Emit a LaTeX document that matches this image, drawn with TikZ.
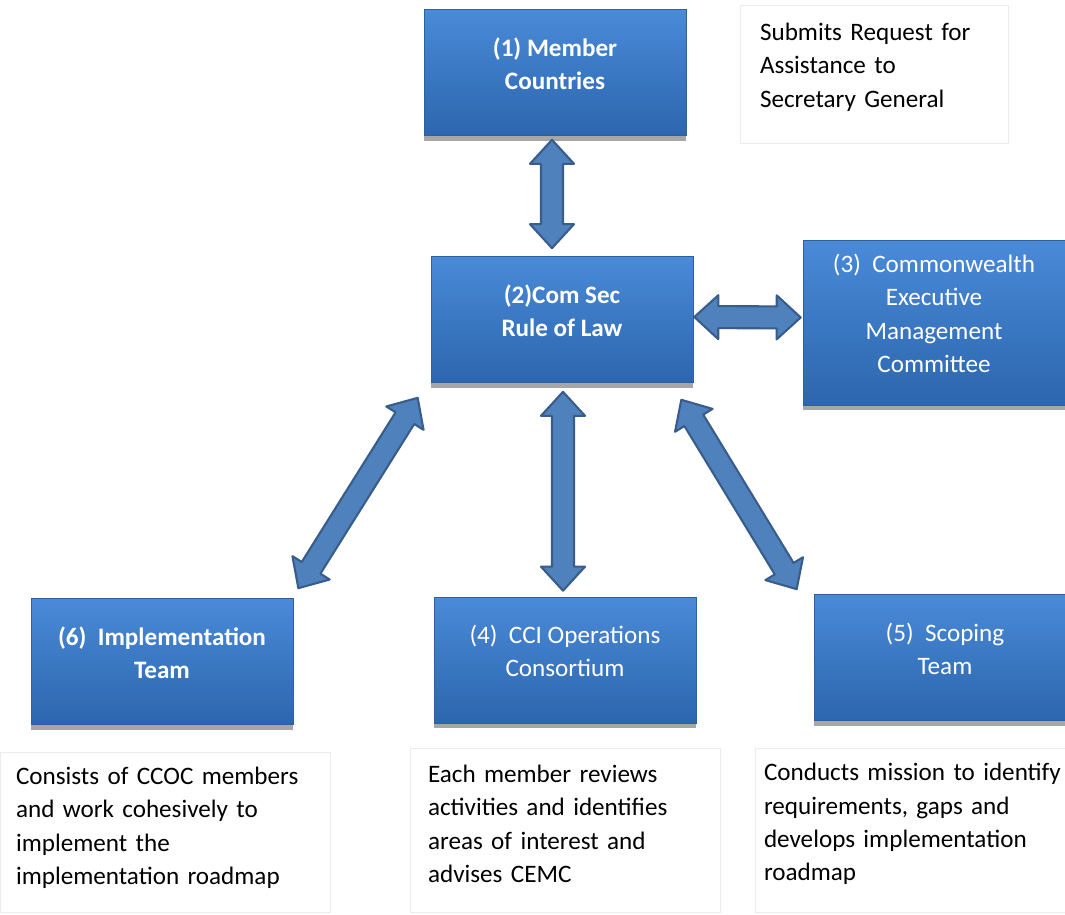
\documentclass[tikz,border=0pt]{standalone}
\usepackage{fontspec}
\setmainfont{Carlito}
\usetikzlibrary{calc,shadows}
\definecolor{boxtop}{RGB}{74,138,216}
\definecolor{boxbottom}{RGB}{44,102,174}
\definecolor{boxedge}{RGB}{46,96,160}
\definecolor{arrowfill}{RGB}{79,129,189}
\definecolor{arrowedge}{RGB}{56,93,138}
\definecolor{noteedge}{RGB}{236,236,236}
\newcommand{\boxfont}{\fontsize{14.3}{19}\selectfont}
\newcommand{\linkarrow}[2]{%
  \filldraw[link] (#1)
    -- ($(#1)!0.48cm!(#2)!0.44cm!90:(#2)$) -- ($(#1)!0.48cm!(#2)!0.22cm!90:(#2)$)
    -- ($(#2)!0.48cm!(#1)!0.22cm!-90:(#1)$) -- ($(#2)!0.48cm!(#1)!0.44cm!-90:(#1)$)
    -- (#2)
    -- ($(#2)!0.48cm!(#1)!0.44cm!90:(#1)$) -- ($(#2)!0.48cm!(#1)!0.22cm!90:(#1)$)
    -- ($(#1)!0.48cm!(#2)!0.22cm!-90:(#2)$) -- ($(#1)!0.48cm!(#2)!0.44cm!-90:(#2)$)
    -- cycle;}

\begin{document}
\begin{tikzpicture}[
    x=0.02cm, y=-0.02cm,
    block/.style={draw=boxedge, top color=boxtop, bottom color=boxbottom, text=white,
      minimum width=5.24cm, minimum height=2.52cm, text depth=0.36cm, align=center, font=\boxfont,
      drop shadow={shadow xshift=0pt, shadow yshift=-3pt, opacity=0.35, fill=black}},
    strong/.style={font=\boxfont\bfseries},
    note/.style={draw=noteedge, fill=white, align=left, font=\boxfont, text depth=64pt},
    link/.style={fill=arrowfill, draw=arrowedge, line width=1.2pt, line join=round}
]
    \useasboundingbox (0,0) rectangle (1065,915);
    \fill[white] (0,0) rectangle (1065,915);

    \node[block, strong] (m1) at (555,72.5) {(1) Member\\Countries};
    \node[note, text depth=48pt, inner xsep=0.4cm, text width=4.56cm, minimum height=2.76cm] (n1) at (874,74) {Submits Request for\\Assistance to\\Secretary General};
    \node[block, strong] (m2) at (562,319.5) {(2)Com Sec\\Rule of Law};
    \node[block, minimum height=3.3cm] (m3) at (934,322.5) {(3)~ Commonwealth\\Executive\\Management\\Committee};
    \node[block, strong] (m6) at (162,661.5) {(6)~ Implementation\\Team};
    \node[block] (m4) at (565,660) {(4)~ CCI Operations\\Consortium};
    \node[block] (m5) at (945,657.5) {(5)~ Scoping\\Team};

    \node[note, inner xsep=0.32cm, text width=5.96cm, minimum height=3.2cm] (n6) at (165,832) {Consists of CCOC members\\and work cohesively to\\implement the\\implementation roadmap};
    \node[note, inner xsep=0.36cm, text width=5.48cm, minimum height=3.28cm] (n4) at (565,830) {Each member reviews\\activities and identifies\\areas of interest and\\advises CEMC};
    \node[note, text depth=66pt, inner xsep=0.18cm, text width=6.32cm, minimum height=3.28cm] (n5) at (922,830) {Conducts mission to identify\\requirements, gaps and\\develops implementation\\roadmap};

    \coordinate (p12) at ([shift={(-3,4)}]m1.south);
    \coordinate (p21) at ([shift={(-10,-8)}]m2.north);
    \coordinate (p23) at ([shift={(1,-2.5)}]m2.east);
    \coordinate (p32) at ([shift={(-2,-5)}]m3.west);
    \coordinate (p24) at ([shift={(1,9)}]m2.south);
    \coordinate (p42) at ([shift={(-2,-6)}]m4.north);
    \coordinate (p26) at ([shift={(-13,15)}]m2.south west);
    \coordinate (p62) at ([shift={(5,-10)}]m6.north east);
    \coordinate (p25) at ([shift={(-12,17)}]m2.south east);
    \coordinate (p52) at ([shift={(-17,-5)}]m5.north west);

    \linkarrow{p12}{p21}
    \linkarrow{p23}{p32}
    \linkarrow{p24}{p42}
    \linkarrow{p26}{p62}
    \linkarrow{p25}{p52}
\end{tikzpicture}
\end{document}
